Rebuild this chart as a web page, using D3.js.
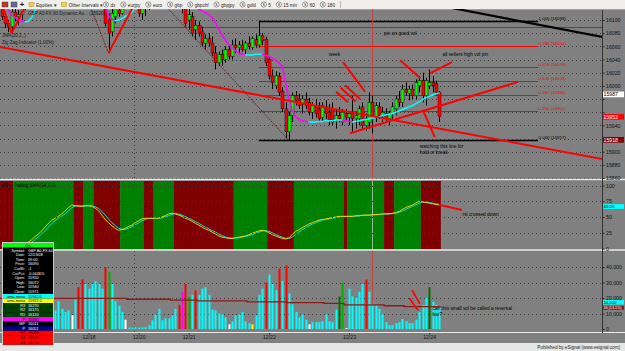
<!DOCTYPE html>
<html>
<head>
<meta charset="utf-8">
<script src="https://cdn.jsdelivr.net/npm/d3@7"></script>
<style>
  body { margin: 0; background: #808080; }
  svg { display: block; font-family: "Liberation Sans", Arial, sans-serif; }
</style>
</head>
<body>
<svg id="chart" width="625" height="351"></svg>
<script>
// ---- data (60 min bars, GBP A0-FX) ----
const opens = [
  16120,16105,16095,16090,16112,16105,16108,16125,16135,16145,
  16155,16165,16172,16180,16186,16195,16205,16200,16212,16220,
  16228,16235,16232,16222,16230,16212,16220,16215,16200,16185,
  16165,16118,16100,16082,16105,16115,16110,16130,16145,16150,
  16155,16125,16110,16118,16125,16135,16145,16152,16158,16162,
  16150,16155,16142,16135,16128,16118,16100,16105,16085,16092,
  16082,16065,16072,16065,16050,16035,16048,16040,16055,16045,
  16062,16058,16062,16055,16065,16058,16070,16062,16076,16070,
  16040,16015,16000,16015,15992,15965,15930,15955,15985,15980,
  15972,15980,15975,15960,15970,15965,15952,15968,15960,15965,
  15948,15955,15945,15958,15952,15958,15950,15950,15968,15940,
  15945,15975,15952,15968,15955,15958,15950,15958,15965,15980,
  15975,15995,15988,15995,15985,16000,16008,15985,16000,16005,
  16003,15990];
const highs = [
  16135,16112,16100,16118,16125,16115,16130,16140,16150,16160,
  16170,16178,16185,16192,16200,16210,16215,16218,16225,16232,
  16240,16242,16240,16235,16238,16225,16230,16222,16210,16192,
  16170,16125,16110,16120,16125,16130,16135,16150,16160,16165,
  16160,16130,16125,16155,16140,16150,16160,16165,16170,16168,
  16160,16162,16150,16142,16140,16125,16118,16112,16100,16098,
  16090,16078,16080,16075,16060,16052,16055,16060,16062,16070,
  16072,16068,16070,16068,16075,16075,16078,16099,16080,16075,
  16045,16025,16022,16020,15998,15975,15960,15990,15992,15988,
  15985,15990,15982,15975,15980,15975,15975,15978,15972,15975,
  15965,15968,15965,15965,15960,15985,15960,15970,15975,15958,
  15990,15985,15975,15975,15968,15966,15962,15975,15985,15992,
  16002,16005,16000,16002,16010,16015,16020,16012,16025,16015,
  16008,15992];
const lows = [
  16100,16088,16082,16080,16098,16092,16100,16115,16128,16138,
  16148,16155,16162,16170,16178,16185,16192,16195,16205,16210,
  16218,16225,16215,16215,16205,16200,16208,16195,16180,16160,
  16128,16090,16050,16075,16095,16105,16108,16120,16135,16140,
  16125,16105,16100,16106,16115,16125,16138,16140,16148,16145,
  16140,16138,16128,16120,16110,16090,16085,16075,16070,16075,
  16060,16055,16060,16045,16025,16030,16030,16035,16040,16040,
  16050,16048,16052,16048,16055,16055,16058,16058,16062,16030,
  16010,15995,15995,15985,15960,15920,15917,15945,15970,15965,
  15958,15965,15955,15950,15952,15945,15946,15950,15940,15940,
  15935,15945,15940,15948,15940,15930,15935,15940,15935,15932,
  15935,15928,15945,15950,15945,15944,15940,15950,15955,15968,
  15968,15985,15978,15980,15980,15990,15975,15970,15995,15990,
  15985,15945];
const closes = [
  16105,16095,16090,16112,16105,16108,16125,16135,16145,16155,
  16165,16172,16180,16186,16195,16205,16200,16212,16220,16228,
  16235,16232,16222,16230,16212,16220,16215,16200,16185,16165,
  16132,16095,16080,16110,16118,16110,16130,16145,16150,16155,
  16130,16110,16118,16125,16135,16145,16152,16158,16162,16150,
  16155,16142,16135,16128,16120,16095,16108,16080,16092,16080,
  16065,16072,16065,16050,16035,16048,16040,16055,16045,16062,
  16058,16062,16055,16065,16060,16072,16062,16076,16068,16035,
  16015,16005,16015,15990,15965,15930,15955,15985,15978,15970,
  15980,15970,15960,15970,15958,15950,15970,15958,15948,15945,
  15955,15950,15960,15952,15958,15950,15955,15965,15940,15950,
  15975,15955,15970,15955,15960,15950,15958,15968,15980,15975,
  15995,15990,15995,15985,16005,16008,15985,16008,16005,16000,
  15990,15953];

// dynamic JMA(20,2) line
const jma = [
  16140,16125,16115,16108,16104,16100,16099,16097,16098,16104,
  16115,16128,16140,16150,16160,16170,16178,16185,16192,16198,
  16204,16208,16212,16214,16215,16214,16210,16200,16185,16165,
  16140,16120,16106,16101,16099,16100,16102,16105,16108,16112,
  16118,16124,16130,16136,16142,16148,16152,16155,16156,16156,
  16154,16150,16145,16140,16135,16130,16126,16122,16118,16117,
  16114,16111,16108,16104,16096,16086,16077,16069,16063,16058,
  16053,16050,16048,16047,16047,16047,16048,16048,16048,16046,
  16045,16042,16039,16035,16030,16005,15980,15962,15953,15949,
  15947,15946,15945,15945,15945,15946,15946,15947,15947,15947,
  15948,15948,15948,15947,15946,15945,15946,15947,15948,15949,
  15950,15951,15952,15953,15955,15956,15957,15958,15960,15962,
  15964,15966,15968,15970,15973,15976,15979,15982,15984,15986,
  15988,15989];

const volumes = [
  14000,12000,16000,22000,25000,18000,15000,20000,24000,17000,
  13000,11000,15000,19000,14000,12000,
  12000,18000,13000,11000,12000,9000,19000,27000,32000,29000,
  26000,29000,31000,29000,26000,40000,37000,29000,18000,15000,
  11000,6000,1000,800,1200,900,1000,1100,2500,5600,
  9400,13000,5600,6900,6900,8800,13000,15600,24000,29000,
  21000,22000,25000,22000,26000,27000,22000,12500,12000,10000,
  9400,7500,3000,5000,8800,9400,11000,5000,3800,3000,
  8800,22000,26000,30000,35000,29000,25000,39000,31000,41000,
  23000,16000,11000,7500,9400,6000,3000,4400,4400,4400,
  5000,9400,5000,4400,12500,21000,30000,600,26000,21000,
  20000,24000,29000,32000,24000,16000,15600,13000,9400,4400,
  2500,2500,3800,4400,6500,5000,3800,3800,6000,11000,
  15600,20000,27000,17500,15600,14000];
// bars that are not painted cyan: [bar, colour code]
const volumeMarks = [
  [21,'w'],[23,'r'],[24,'r'],[31,'r'],[32,'g'],[37,'w'],[53,'r'],[54,'m'],
  [55,'r'],[56,'g'],[58,'r'],[68,'w'],[75,'y'],[79,'r'],[83,'r'],[85,'r'],
  [92,'w'],[101,'d'],[102,'g'],[103,'w'],[109,'r'],[128,'d']];
// volume average, read as flat steps [fromBar, toBar, value]
const volumeAvgSteps = [
  [0,37,19800],[38,50,19200],[51,58,18600],[59,73,18100],[74,85,17500],
  [86,96,17000],[97,102,16500],[103,114,15600],[115,120,15000],[121,131,14400]];

const rsi = [
  4,3,2,3,2,1,2,5,10,14,
  19,23,28,34,40,45,48,51,55,60,
  65,69,68,67,67,68,68,67,64,60,
  53,46,41,36,32,29,30,32,35,37,
  41,44,47,48,48,48,48,48,50,52,
  55,56,55,53,51,48,46,43,40,37,
  34,31,29,26,23,20,18,17,16,16,
  17,18,19,20,22,24,26,28,29,28,
  25,22,20,18,16,15,17,22,27,30,
  33,36,39,41,43,45,46,47,48,49,
  50,51,51,51,51,51,52,52,53,53,
  53,54,54,54,55,55,55,56,57,59,
  62,65,67,69,72,75,74,73,72,71,
  70,69];
// RSI vs trailing SMA state, [fromBar, toBar, 'up'|'dn']
const rsiBands = [
  [0,3,'dn'],[4,21,'up'],[22,24,'dn'],[25,27,'up'],[28,35,'dn'],[36,42,'up'],
  [43,45,'dn'],[46,51,'up'],[52,69,'dn'],[70,79,'up'],[80,87,'dn'],[88,102,'up'],
  [103,103,'dn'],[104,114,'up'],[115,117,'dn'],[118,125,'up'],[126,131,'dn']];

// zig zag pivots [bar, price] and leg styles
const zigzagPivots = [[0,16125],[3,16080],[18,16230],[32,16050],[43,16155],[86,15917]];
const zigzagLegStyle = ['thick','thick','thin','thick','thin'];

// fibonacci retracement from 12/22 high to low
const fibLevels = [[1.000,16099],[0.786,16060],[0.618,16029],[0.500,16008],[0.382,15986],[0.250,15962],[0.000,15917]];
const fibFromBar = 77, fibToBar = 160.6;
const pivotLine = 16089;

// hand drawn lines on the price pane [bar1, price1, bar2, price2]
const priceDrawings = [
  [-0.5,16059,186,15883],   // long down trendline
  [104.3,15928,154.6,16006],// rising support
  [102.2,16036,108.8,15991],// "week" pointer
  [100.1,15991,103.7,15975],
  [101.5,15997,106,15976],
  [102.8,16001,107.3,15980],
  [119.3,16039,125.3,16012],// pin pointers
  [128.2,16019,134.8,16036],
  [126.1,15963,129.7,15922] // "watching" pointer
];
const blackTrend = [131,16122,180,16074];
const rsiDrawings = [[131.2,69,137.8,61]];
const volumeDrawings = [[122.9,25000,125.2,16300],[122,20000,124.7,11900]];

const priceNotes = [
  [98,16045,'week'],[114.5,16077,'pin on good vol'],[132,16045,'all sellers high vol pin'],
  [125.2,15905,'watching this line for'],[125.2,15896,'hold or break']];
const rsiNotes = [[138,52,'rsi crossed down']];
const volumeNotes = [[129,12500,'can this small vol be called a reversal'],[129,8200,'bar?']];

const priceTicks = d3.range(15860, 16101, 20);
const hiddenPriceTicks = [15920, 15960, 15980];   // covered by value tags
const rsiTicks = [25, 50, 75, 100];
const volumeTicks = [0, 10000, 20000, 30000, 40000];
const dateLabels = [[26,'12/18'],[41,'12/20'],[56,'12/21'],[80,'12/22'],[104,'12/23'],[128,'12/24']];
const dayBreak = 39.5, markerBar = 111;

const toolbarButtons = ['dx','eurjpy','euro','gbp','gbpchf','gbpjpy','gold','5','15 min','60','180'];

const dataWindow = [
  ['Symbol:','GBP A0-FX,60','#000','#fff'],['Date:','12/23/08','#000','#fff'],
  ['Time:','09:00','#000','#fff'],['Price:','16090','#000','#fff'],
  ['CurBt:','-1','#000','#fff'],['CurPct:','-0.0446%','#000','#fff'],
  ['Open:','15950','#000','#fff'],['High:','16072','#000','#fff'],
  ['Low:','15940','#000','#fff'],['Close:','15971','#000','#fff'],
  ['ama-mesa','15942.0','#00ffff','#000'],['ama-mesa','15937.0','#ffff00','#000'],
  ['R3','16270','#004000','#fff'],['R2','16175','#004000','#fff'],['R1','16120','#004000','#fff'],
  ['P','15930','#ff00ff','#000'],['MP','16011','#000','#fff'],['P','16051','#000080','#fff'],
  ['S1','16000','#ff0000','#000'],['S2','15910','#ff0000','#000'],['S3','15714','#ff0000','#000']];

// ---- layout ----
const W = 625, H = 351, nBars = closes.length, axisX = 602;
const panes = { main: [9, 179], rsi: [181, 249], vol: [251, 332] };

const x = d3.scaleLinear().domain([-0.5, nBars - 0.5]).range([0, nBars * 3.34]);
const yP = d3.scaleLinear().domain([15860, 16100]).range([178, 20]);
const yR = d3.scaleLinear().domain([0, 100]).range([248.5, 185.5]);
const yV = d3.scaleLinear().domain([0, 40000]).range([329, 267]);
const px = v => Math.round(v) + 0.5;

const svg = d3.select('#chart');
const defs = svg.append('defs');
Object.entries(panes).forEach(([k, [t, b]]) => {
  defs.append('clipPath').attr('id', 'clip-' + k)
    .append('rect').attr('x', 0).attr('y', t).attr('width', axisX).attr('height', b - t);
});

// backgrounds
svg.append('rect').attr('width', W).attr('height', H).attr('fill', '#808080');
svg.append('rect').attr('y', 343).attr('width', W).attr('height', 8).attr('fill', '#e6e6e6');
svg.append('text').attr('x', 620).attr('y', 349).attr('text-anchor', 'end')
  .attr('font-size', 4.6).attr('fill', '#222').text('Published by eSignal (www.esignal.com)');

// toolbar
const tb = svg.append('g');
tb.append('rect').attr('width', W).attr('height', 9).attr('fill', '#f0efeb');
tb.append('line').attr('x1', 0).attr('x2', W).attr('y1', 9.5).attr('y2', 9.5).attr('stroke', '#a0a0a0');
[['#c0392b', 2], ['#6a6a9a', 11]].forEach(([c, xx]) => {
  tb.append('rect').attr('x', xx).attr('y', 2).attr('width', 6).attr('height', 5).attr('fill', c).attr('stroke', '#333').attr('stroke-width', 0.4);
});
tb.append('text').attr('x', 20).attr('y', 7).attr('font-size', 7).attr('font-weight', 'bold').text('+');
let cx = 29;
['Equities', 'Other Intervals'].forEach(label => {
  tb.append('rect').attr('x', cx).attr('y', 2.5).attr('width', 5).attr('height', 4).attr('fill', '#f4d03f').attr('stroke', '#9a7d0a').attr('stroke-width', 0.4);
  const t = tb.append('text').attr('x', cx + 7).attr('y', 6.6).attr('font-size', 4.6).attr('fill', '#222').text(label + '  \u25be');
  cx += 7 + t.node().getComputedTextLength() + 5;
});
cx = 103;
toolbarButtons.forEach(label => {
  tb.append('circle').attr('cx', cx + 3).attr('cy', 4.5).attr('r', 2.6).attr('fill', '#fff').attr('stroke', '#333').attr('stroke-width', 0.5);
  tb.append('text').attr('x', cx + 3).attr('y', 5.9).attr('text-anchor', 'middle').attr('font-size', 3.6).text('S');
  const t = tb.append('text').attr('x', cx + 7.5).attr('y', 6.6).attr('font-size', 4.6).attr('fill', '#222').text(label);
  cx += 7.5 + t.node().getComputedTextLength() + 5;
});
tb.append('line').attr('x1', px(cx)).attr('x2', px(cx)).attr('y1', 1).attr('y2', 8).attr('stroke', '#bbb');

// ---- RSI bands (under grid) ----
const rsiG = svg.append('g').attr('clip-path', 'url(#clip-rsi)');
rsiG.selectAll('rect.band').data(rsiBands).join('rect')
  .attr('x', d => x(d[0] - 0.5)).attr('width', d => x(d[1] + 0.5) - x(d[0] - 0.5))
  .attr('y', panes.rsi[0]).attr('height', panes.rsi[1] - panes.rsi[0])
  .attr('fill', d => d[2] === 'up' ? '#008000' : '#800000');

// grids
const gridStyle = sel => sel.attr('stroke', '#3c3c3c').attr('stroke-width', 1).attr('stroke-dasharray', '1,3');
const grid = svg.append('g');
grid.selectAll('line.gp').data(priceTicks).join('line')
  .attr('x1', 0).attr('x2', axisX).attr('y1', d => px(yP(d))).attr('y2', d => px(yP(d))).call(gridStyle);
grid.selectAll('line.gr').data(rsiTicks).join('line')
  .attr('x1', 0).attr('x2', axisX).attr('y1', d => px(yR(d))).attr('y2', d => px(yR(d))).call(gridStyle);
grid.selectAll('line.gv').data(volumeTicks.slice(1)).join('line')
  .attr('x1', 0).attr('x2', axisX).attr('y1', d => px(yV(d))).attr('y2', d => px(yV(d))).call(gridStyle);
Object.values(panes).forEach(([t, b]) => {
  grid.append('line').attr('x1', px(x(dayBreak))).attr('x2', px(x(dayBreak)))
    .attr('y1', t).attr('y2', b).call(gridStyle);
});

// ---- price pane ----
const mainG = svg.append('g').attr('clip-path', 'url(#clip-main)');
const bars = closes.map((c, i) => ({ i, o: opens[i], h: highs[i], l: lows[i], c }));

// fib and pivot levels
mainG.append('line').attr('x1', 0).attr('x2', axisX)
  .attr('y1', px(yP(pivotLine))).attr('y2', px(yP(pivotLine))).attr('stroke', '#ff0000');
mainG.selectAll('line.fib').data(fibLevels).join('line')
  .attr('x1', x(fibFromBar)).attr('x2', x(fibToBar))
  .attr('y1', d => px(yP(d[1]))).attr('y2', d => px(yP(d[1])))
  .attr('stroke', d => d[0] === 1 || d[0] === 0 ? '#000' : '#ff0000')
  .attr('stroke-width', d => d[0] === 1 || d[0] === 0 ? 1.3 : 1);
mainG.selectAll('text.fib').data(fibLevels).join('text')
  .attr('x', x(fibToBar) + 0.5).attr('y', d => yP(d[1]) - 1)
  .attr('font-size', 4.4).attr('fill', d => d[0] === 1 || d[0] === 0 ? '#000' : '#ff0000')
  .text(d => `${d[0].toFixed(3)} (${d[1]})`);

// vertical marker
mainG.append('line').attr('x1', px(x(markerBar))).attr('x2', px(x(markerBar)))
  .attr('y1', panes.main[0]).attr('y2', panes.main[1]).attr('stroke', '#e03030').attr('stroke-width', 0.8);

// candles
mainG.selectAll('line.wick').data(bars).join('line')
  .attr('x1', d => px(x(d.i))).attr('x2', d => px(x(d.i)))
  .attr('y1', d => yP(d.h)).attr('y2', d => yP(d.l)).attr('stroke', '#000').attr('stroke-width', 1);
mainG.selectAll('rect.body').data(bars).join('rect')
  .attr('x', d => px(x(d.i)) - 1.5).attr('width', 3)
  .attr('y', d => yP(Math.max(d.o, d.c)))
  .attr('height', d => Math.max(1, Math.abs(yP(d.o) - yP(d.c))))
  .attr('fill', d => d.c >= d.o ? '#00ff00' : '#ff0000')
  .attr('stroke', '#000').attr('stroke-width', 0.4);

// JMA coloured by slope
const jmaSegs = d3.range(1, nBars).map(i => [i - 1, i]);
mainG.selectAll('line.jma').data(jmaSegs).join('line')
  .attr('x1', d => x(d[0])).attr('x2', d => x(d[1]))
  .attr('y1', d => yP(jma[d[0]])).attr('y2', d => yP(jma[d[1]]))
  .attr('stroke', d => jma[d[1]] >= jma[d[0]] ? '#00ffff' : '#ff00ff')
  .attr('stroke-width', 1.5).attr('stroke-linecap', 'round');

// zig zag
const zzLegs = d3.range(1, zigzagPivots.length).map(k => [zigzagPivots[k - 1], zigzagPivots[k], zigzagLegStyle[k - 1]]);
mainG.selectAll('line.zz').data(zzLegs).join('line')
  .attr('x1', d => x(d[0][0])).attr('y1', d => yP(d[0][1]))
  .attr('x2', d => x(d[1][0])).attr('y2', d => yP(d[1][1]))
  .attr('stroke', d => d[2] === 'thick' ? '#ff0000' : '#6b1010')
  .attr('stroke-width', d => d[2] === 'thick' ? 2 : 0.8)
  .attr('stroke-dasharray', d => d[2] === 'thick' ? null : '2,1');

// drawings
mainG.selectAll('line.draw').data(priceDrawings).join('line')
  .attr('x1', d => x(d[0])).attr('y1', d => yP(d[1]))
  .attr('x2', d => x(d[2])).attr('y2', d => yP(d[3]))
  .attr('stroke', '#ff0000').attr('stroke-width', 2);
mainG.append('line')
  .attr('x1', x(blackTrend[0])).attr('y1', yP(blackTrend[1]))
  .attr('x2', x(blackTrend[2])).attr('y2', yP(blackTrend[3]))
  .attr('stroke', '#000').attr('stroke-width', 2.2);
mainG.selectAll('text.note').data(priceNotes).join('text')
  .attr('x', d => x(d[0])).attr('y', d => yP(d[1]))
  .attr('font-size', 4.8).attr('fill', '#000').text(d => d[2]);

// pane labels
mainG.append('text').attr('x', 28).attr('y', 15).attr('font-size', 4.6).attr('fill', '#1a1a1a')
  .text('GBP A0-FX,60  Dynamic,Au...  (15920)');
mainG.append('text').attr('x', 2).attr('y', 37).attr('font-size', 4.6).attr('fill', '#1a1a1a').text('JMA(20,2,.)');
mainG.append('text').attr('x', 2).attr('y', 44).attr('font-size', 4.6).attr('fill', '#1a1a1a').text('Zig Zag Indicator (1.00%)');

// ---- RSI pane ----
const rsiSma = rsi.map((v, i) => d3.mean(rsi.slice(Math.max(0, i - 2), i + 1)));
const rLine = d3.line().x((d, i) => x(i)).y(d => yR(d));
rsiG.append('path').attr('d', rLine(rsiSma)).attr('fill', 'none').attr('stroke', '#00e5e5').attr('stroke-width', 1);
rsiG.append('path').attr('d', rLine(rsi)).attr('fill', 'none').attr('stroke', '#f0d000').attr('stroke-width', 1);
rsiG.append('line').attr('x1', px(x(markerBar))).attr('x2', px(x(markerBar)))
  .attr('y1', panes.rsi[0]).attr('y2', panes.rsi[1]).attr('stroke', '#b0d0b0').attr('stroke-width', 0.8);
rsiG.selectAll('line.draw').data(rsiDrawings).join('line')
  .attr('x1', d => x(d[0])).attr('y1', d => yR(d[1])).attr('x2', d => x(d[2])).attr('y2', d => yR(d[3]))
  .attr('stroke', '#ff0000').attr('stroke-width', 2);
rsiG.selectAll('text.note').data(rsiNotes).join('text')
  .attr('x', d => x(d[0])).attr('y', d => yR(d[1])).attr('font-size', 4.8).text(d => d[2]);
rsiG.append('text').attr('x', 2).attr('y', 187).attr('font-size', 4.6).attr('fill', '#000').text('RSI + trailing SMA(14,2,2)');

// ---- volume pane ----
const volG = svg.append('g').attr('clip-path', 'url(#clip-vol)');
const markMap = new Map(volumeMarks);
const volColour = { r: '#ff0000', g: '#00b000', d: '#007000', w: '#ffffff', m: '#ff00ff', y: '#ffff00' };
volG.append('line').attr('x1', px(x(markerBar))).attr('x2', px(x(markerBar)))
  .attr('y1', panes.vol[0]).attr('y2', panes.vol[1]).attr('stroke', '#e03030').attr('stroke-width', 0.8);
volG.selectAll('rect.vol').data(volumes).join('rect')
  .attr('x', (d, i) => px(x(i)) - 1).attr('width', 2)
  .attr('y', d => yV(d)).attr('height', d => yV(0) - yV(d))
  .attr('fill', (d, i) => volColour[markMap.get(i)] || '#00ffff');
const avgPts = volumeAvgSteps.flatMap(s => [[s[0] - 0.5, s[2]], [s[1] + 0.5, s[2]]]);
volG.append('path')
  .attr('d', d3.line().x(d => x(d[0])).y(d => yV(d[1])).curve(d3.curveStepAfter)(avgPts))
  .attr('fill', 'none').attr('stroke', '#8b1a1a').attr('stroke-width', 1.3);
volG.selectAll('line.draw').data(volumeDrawings).join('line')
  .attr('x1', d => x(d[0])).attr('y1', d => yV(d[1])).attr('x2', d => x(d[2])).attr('y2', d => yV(d[3]))
  .attr('stroke', '#ff0000').attr('stroke-width', 1.6);
volG.selectAll('text.note').data(volumeNotes).join('text')
  .attr('x', d => x(d[0])).attr('y', d => yV(d[1])).attr('font-size', 4.8).text(d => d[2]);

// pane separators and axis line
[[179.5, 1.5], [250, 1.5], [332.5, 1]].forEach(([y, w]) => {
  svg.append('line').attr('x1', 0).attr('x2', W).attr('y1', y).attr('y2', y).attr('stroke', '#e8e8e8').attr('stroke-width', w);
});
svg.append('line').attr('x1', axisX + 0.5).attr('x2', axisX + 0.5).attr('y1', 10).attr('y2', 333).attr('stroke', '#333');

// ---- axes ----
const styleAxis = g => {
  g.select('.domain').remove();
  g.selectAll('.tick line').attr('stroke', '#222');
  g.selectAll('.tick text').attr('fill', '#111').attr('font-size', 5.2).attr('font-family', '"Liberation Sans", Arial, sans-serif');
};
svg.append('g').attr('transform', `translate(${axisX + 1},0)`)
  .call(d3.axisRight(yP).tickValues(priceTicks).tickSize(1.5).tickPadding(1.5)
    .tickFormat(d => hiddenPriceTicks.includes(d) ? '' : d3.format('d')(d))).call(styleAxis);
svg.append('g').attr('transform', `translate(${axisX + 1},0)`)
  .call(d3.axisRight(yR).tickValues([0, ...rsiTicks]).tickSize(1.5).tickPadding(1.5)).call(styleAxis);
svg.append('g').attr('transform', `translate(${axisX + 1},0)`)
  .call(d3.axisRight(yV).tickValues(volumeTicks).tickSize(1.5).tickPadding(1.5).tickFormat(d3.format(','))).call(styleAxis);
const dateMap = new Map(dateLabels);
svg.append('g').attr('transform', 'translate(0,333)')
  .call(d3.axisBottom(x).tickValues(dateLabels.map(d => d[0])).tickSize(1.5).tickPadding(1).tickFormat(d => dateMap.get(d)))
  .call(styleAxis);

// last value tags on the right axis
const tag = (y, text, bg, fg, size = 5.2) => {
  const g = svg.append('g');
  g.append('rect').attr('x', axisX + 1).attr('y', y - size * 0.55).attr('width', 21).attr('height', size * 1.1).attr('fill', bg);
  g.append('text').attr('x', axisX + 1.5).attr('y', y + size * 0.36).attr('font-size', size).attr('fill', fg).text(text);
};
tag(yP(15987), '15987', '#ffffff', '#000');
tag(yP(closes[nBars - 1]), String(closes[nBars - 1]), '#ff0000', '#fff');
tag(yP(15918), '15918', '#800000', '#fff');
tag(yR(rsi[nBars - 1]) + 1.5, rsi[nBars - 1].toFixed(2), '#00ffff', '#000', 4.4);
tag(yV(volumes[nBars - 1]) - 5, volumes[nBars - 1].toLocaleString('en-US'), '#00ffff', '#000', 4.2);
tag(yV(volumes[nBars - 1]) + 0.5, '18,(13.1%)', '#8b1a1a', '#fff', 3.7);

// ---- data window ----
const dw = svg.append('g').attr('transform', 'translate(3,243)');
const rowH = 4.6;
dw.append('rect').attr('x', -0.5).attr('y', -0.5).attr('width', 51).attr('height', 5 + dataWindow.length * rowH + 1)
  .attr('fill', '#000').attr('stroke', '#c8c8c8').attr('stroke-width', 1);
dw.append('rect').attr('width', 50).attr('height', 4.5).attr('fill', '#00ff00');
dw.append('text').attr('x', 25).attr('y', 3.7).attr('text-anchor', 'middle').attr('font-size', 4).text('On');
const rows = dw.selectAll('g.row').data(dataWindow).join('g')
  .attr('transform', (d, i) => `translate(0,${5 + i * rowH})`);
rows.append('rect').attr('width', 50).attr('height', rowH).attr('fill', d => d[2]);
rows.append('text').attr('x', 22).attr('y', 3.6).attr('text-anchor', 'end').attr('font-size', 3.8).attr('fill', d => d[3]).text(d => d[0]);
rows.append('text').attr('x', 25).attr('y', 3.6).attr('font-size', 3.8).attr('fill', d => d[3]).text(d => d[1]);
</script>
</body>
</html>
